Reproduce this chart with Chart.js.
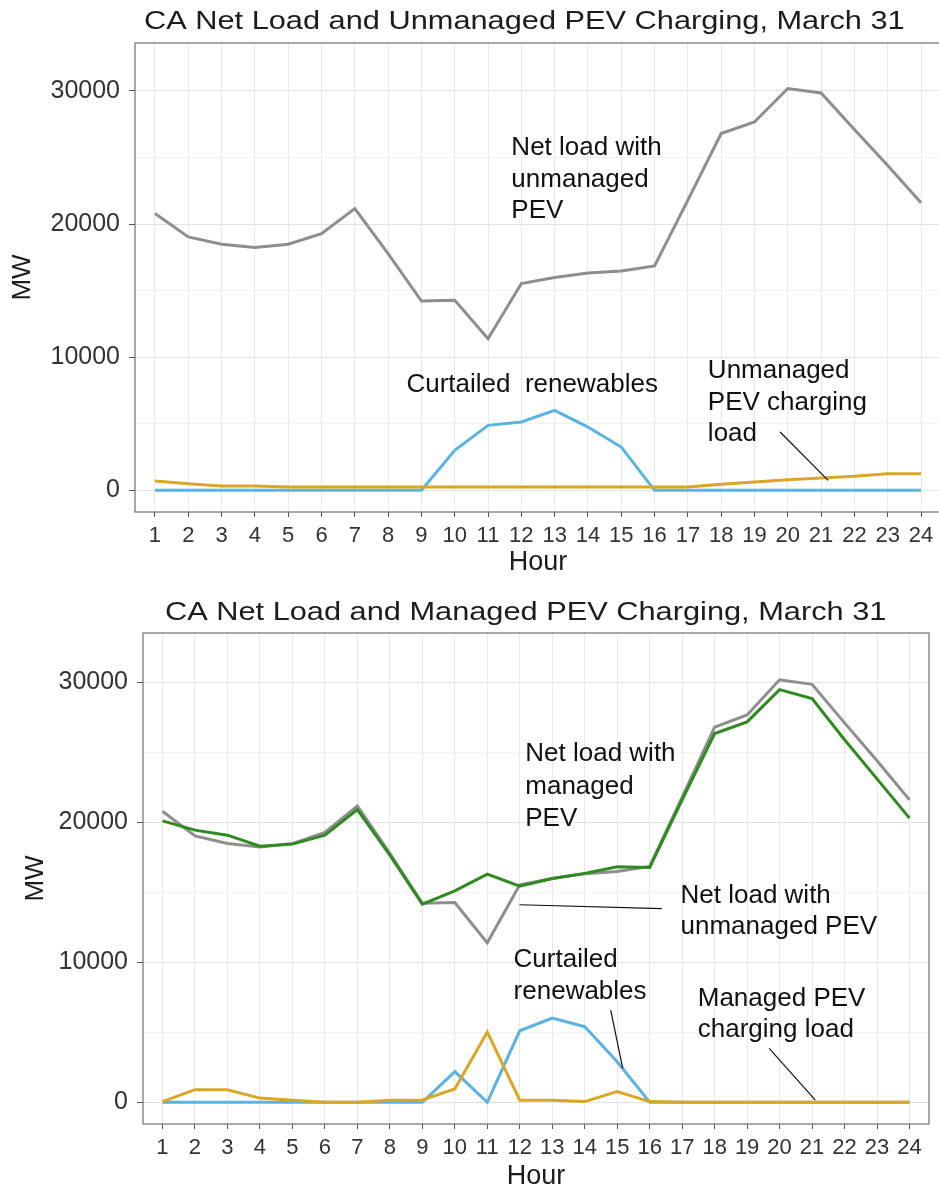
<!DOCTYPE html>
<html>
<head>
<meta charset="utf-8">
<script src="https://cdn.jsdelivr.net/npm/chart.js@4.4.0/dist/chart.umd.min.js"></script>
<style>
  html, body { margin: 0; padding: 0; background: #fff; overflow: hidden; width: 939px; height: 1194px; }
  .box { position: absolute; left: 0; }
</style>
</head>
<body>
<div class="box" style="top:0;width:945px;height:590px"><canvas id="topChart"></canvas></div>
<div class="box" style="top:590px;width:939px;height:604px"><canvas id="bottomChart"></canvas></div>
<script>
/* CA net load, March 31 — unmanaged vs managed PEV charging */

const hours = [1, 2, 3, 4, 5, 6, 7, 8, 9, 10, 11, 12, 13, 14, 15, 16, 17, 18, 19, 20, 21, 22, 23, 24];
const yGridValues = [0, 5000, 10000, 15000, 20000, 25000, 30000];

// MW by hour
const netLoadUnmanaged = [20790, 19030, 18480, 18230, 18480, 19280, 21160, 17780, 14220, 14270, 11390, 15530,
                          15980, 16330, 16480, 16850, 21800, 26800, 27670, 30180, 29850, 27100, 24400, 21600];
const curtailedUnmanaged = [0, 0, 0, 0, 0, 0, 0, 0, 0, 3000, 4880, 5130,
                            6010, 4750, 3250, 0, 0, 0, 0, 0, 0, 0, 0, 0];
const unmanagedPev = [700, 500, 330, 330, 250, 250, 250, 250, 250, 250, 250, 250,
                      250, 250, 250, 250, 250, 450, 630, 800, 920, 1050, 1250, 1250];

const netLoadManaged = [20100, 19440, 19080, 18290, 18440, 19080, 20910, 17650, 14150, 15100, 16300, 15440,
                        15990, 16350, 16820, 16770, 21600, 26340, 27170, 29480, 28840, 25900, 23100, 20300];
const curtailedManaged = [0, 0, 0, 0, 0, 0, 0, 0, 0, 2190, 0, 5110,
                          6020, 5400, 2900, 0, 0, 0, 0, 0, 0, 0, 0, 0];
const managedPev = [50, 900, 900, 300, 150, 0, 0, 150, 170, 950, 5020, 150,
                    150, 50, 760, 50, 0, 0, 0, 0, 0, 0, 0, 0];

const GREY = '#8e8e8e', BLUE = '#5ab3e2', GOLD = '#dba626', GREEN = '#2f8a1f';

function pts(vals) {
  return vals.map((v, i) => ({ x: hours[i], y: v }));
}

function line(label, vals, color) {
  return { label, data: pts(vals), borderColor: color, borderWidth: 3, pointRadius: 0, tension: 0, fill: false };
}

// text with a horizontal stretch, the source picture is widened
function stretchText(ctx, text, x, y, font, sx, color) {
  ctx.save();
  ctx.font = font;
  ctx.fillStyle = color;
  ctx.textAlign = 'left';
  ctx.textBaseline = 'alphabetic';
  ctx.translate(x, y);
  ctx.scale(sx, 1);
  ctx.fillText(text, 0, 0);
  ctx.restore();
}

const decorate = {
  id: 'decorate',
  afterDraw(chart, args, o) {
    const { ctx, chartArea: a, scales: { x, y } } = chart;
    ctx.save();
    ctx.strokeStyle = '#6e6e6e';
    ctx.lineWidth = 1.2;
    ctx.strokeRect(a.left, a.top, a.right - a.left, a.bottom - a.top);

    stretchText(ctx, o.title, o.titleX, o.titleY, '25px Arial', 1.23, '#1c1c1c');

    o.notes.forEach(n => {
      const px = x.getPixelForValue(n.hour);
      const py = y.getPixelForValue(n.mw);
      n.lines.forEach((t, i) => stretchText(ctx, t, px, py + i * n.step + 9, '25px Arial', 1.04, '#111'));
    });

    ctx.strokeStyle = '#111';
    ctx.lineWidth = 1.2;
    o.leaders.forEach(l => {
      ctx.beginPath();
      ctx.moveTo(x.getPixelForValue(l.from[0]), y.getPixelForValue(l.from[1]));
      ctx.lineTo(x.getPixelForValue(l.to[0]), y.getPixelForValue(l.to[1]));
      ctx.stroke();
    });
    ctx.restore();
  }
};

function makeOptions(c) {
  const major = v => v % 10000 === 0;
  return {
    responsive: true,
    maintainAspectRatio: false,
    animation: false,
    layout: { padding: c.padding },
    plugins: { legend: { display: false }, tooltip: { enabled: false }, decorate: c.decorate },
    scales: {
      x: {
        type: 'linear', min: 0.4, max: 24.6,
        afterBuildTicks: s => { s.ticks = hours.map(v => ({ value: v })); },
        afterFit: s => { s.height = 70; },
        ticks: { font: { family: 'Arial', size: 22 }, color: '#333', padding: 6, autoSkip: false, maxRotation: 0 },
        grid: { color: '#e8e8e8', lineWidth: 1, tickColor: '#555', tickLength: 5 },
        border: { display: false },
        title: { display: true, text: 'Hour', font: { family: 'Arial', size: 27 }, color: '#1c1c1c',
                 padding: { top: 0, bottom: c.hourPad } }
      },
      y: {
        min: c.yMin, max: c.yMax,
        afterBuildTicks: s => { s.ticks = yGridValues.map(v => ({ value: v })); },
        afterFit: s => { s.width = c.yWidth; },
        ticks: { font: { family: 'Arial', size: 25 }, color: '#333', padding: 9,
                 callback: v => major(v) ? String(v) : '' },
        grid: {
          color: g => g.tick && major(g.tick.value) ? '#e3e3e3' : '#f2f2f2',
          tickColor: g => g.tick && major(g.tick.value) ? '#555' : 'rgba(0,0,0,0)',
          tickLength: 6
        },
        border: { display: false },
        title: { display: true, text: 'MW', font: { family: 'Arial', size: 26 }, color: '#1c1c1c',
                 padding: { top: c.mwPad, bottom: 0 } }
      }
    }
  };
}

new Chart(document.getElementById('topChart'), {
  type: 'line',
  data: {
    datasets: [
      line('Unmanaged PEV charging load', unmanagedPev, GOLD),
      line('Curtailed renewables', curtailedUnmanaged, BLUE),
      line('Net load with unmanaged PEV', netLoadUnmanaged, GREY)
    ]
  },
  options: makeOptions({
    padding: { top: 43, right: 4, bottom: 8, left: 0 },
    yMin: -1630, yMax: 33600, yWidth: 135, mwPad: 7, hourPad: 3,
    decorate: {
      title: 'CA Net Load and Unmanaged PEV Charging, March 31', titleX: 144, titleY: 29,
      notes: [
        { lines: ['Net load with', 'unmanaged', 'PEV'], hour: 11.7, mw: 25850, step: 31.5 },
        { lines: ['Curtailed  renewables'], hour: 8.55, mw: 8040, step: 0 },
        { lines: ['Unmanaged', 'PEV charging', 'load'], hour: 17.6, mw: 9090, step: 31.5 }
      ],
      leaders: [{ from: [19.77, 4380], to: [21.21, 750] }]
    }
  }),
  plugins: [decorate]
});

new Chart(document.getElementById('bottomChart'), {
  type: 'line',
  data: {
    datasets: [
      line('Managed PEV charging load', managedPev, GOLD),
      line('Curtailed renewables', curtailedManaged, BLUE),
      line('Net load with managed PEV', netLoadManaged, GREEN),
      line('Net load with unmanaged PEV', netLoadUnmanaged, GREY)
    ]
  },
  options: makeOptions({
    padding: { top: 43, right: 10, bottom: 0, left: 0 },
    yMin: -1550, yMax: 33520, yWidth: 143, mwPad: 20, hourPad: 1,
    decorate: {
      title: 'CA Net Load and Managed PEV Charging, March 31', titleX: 165, titleY: 30,
      notes: [
        { lines: ['Net load with', 'managed', 'PEV'], hour: 12.17, mw: 25000, step: 32.5 },
        { lines: ['Net load with', 'unmanaged PEV'], hour: 16.95, mw: 14870, step: 30.5 },
        { lines: ['Curtailed', 'renewables'], hour: 11.81, mw: 10300, step: 32 },
        { lines: ['Managed PEV', 'charging load'], hour: 17.48, mw: 7520, step: 31 }
      ],
      leaders: [
        { from: [11.99, 14110], to: [16.37, 13830] },
        { from: [14.80, 6590], to: [15.17, 2430] },
        { from: [19.68, 3850], to: [21.10, 160] }
      ]
    }
  }),
  plugins: [decorate]
});
</script>
</body>
</html>
